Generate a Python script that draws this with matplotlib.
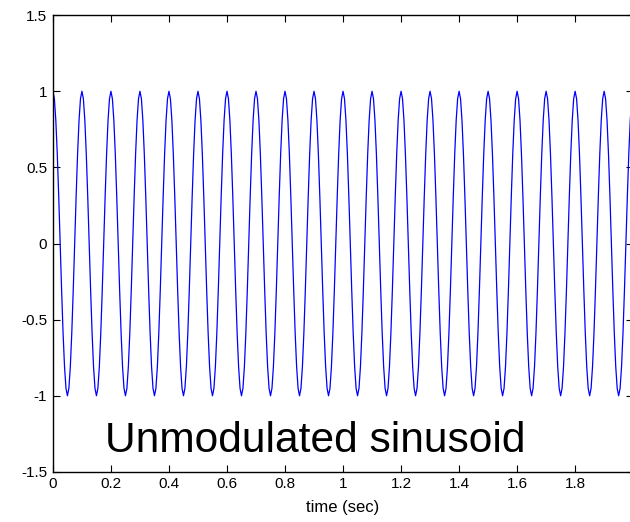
import numpy as np
import matplotlib
matplotlib.use('Agg')
import matplotlib.pyplot as plt

plt.rcParams['font.family'] = ['Liberation Sans', 'DejaVu Sans']

Sample_Rate = 200
One_Period = [1.0, 0.951, 0.809, 0.588, 0.309, 0.0, -0.309, -0.588, -0.809, -0.951,
              -1.0, -0.951, -0.809, -0.588, -0.309, 0.0, 0.309, 0.588, 0.809, 0.951]
Periods = 20

Signal = np.tile(One_Period, Periods)
Time = np.arange(len(Signal)) / Sample_Rate

X_Ticks = [0, 0.2, 0.4, 0.6, 0.8, 1, 1.2, 1.4, 1.6, 1.8, 2]
X_Tick_Labels = ['0', '0.2', '0.4', '0.6', '0.8', '1', '1.2', '1.4', '1.6', '1.8', '']
Y_Ticks = [-1.5, -1, -0.5, 0, 0.5, 1, 1.5]
Y_Tick_Labels = ['-1.5', '-1', '-0.5', '0', '0.5', '1', '1.5']

fig = plt.figure(figsize = (6.3, 5.22), dpi = 100)
#axes run slightly past the right edge of the figure, like the cropped original
ax = fig.add_axes([0.084, 0.096, 0.921, 0.875])

ax.plot(Time, Signal, color = (0, 0, 1), linewidth = 0.9)

ax.set_xlim(0, 2)
ax.set_ylim(-1.5, 1.5)
ax.set_xticks(X_Ticks)
ax.set_xticklabels(X_Tick_Labels)
ax.set_yticks(Y_Ticks)
ax.set_yticklabels(Y_Tick_Labels)
ax.tick_params(direction = 'in', top = True, right = True, labelsize = 11, length = 5, width = 0.8, pad = 4)
for spine in ax.spines.values():
    spine.set_linewidth(1.0)

ax.set_xlabel("time (sec)", fontsize = 12, labelpad = 6)
ax.text(0.179, -1.37, "Unmodulated sinusoid", fontsize = 30.6, ha = 'left', va = 'baseline')

fig.savefig('out.png', dpi = 100)
